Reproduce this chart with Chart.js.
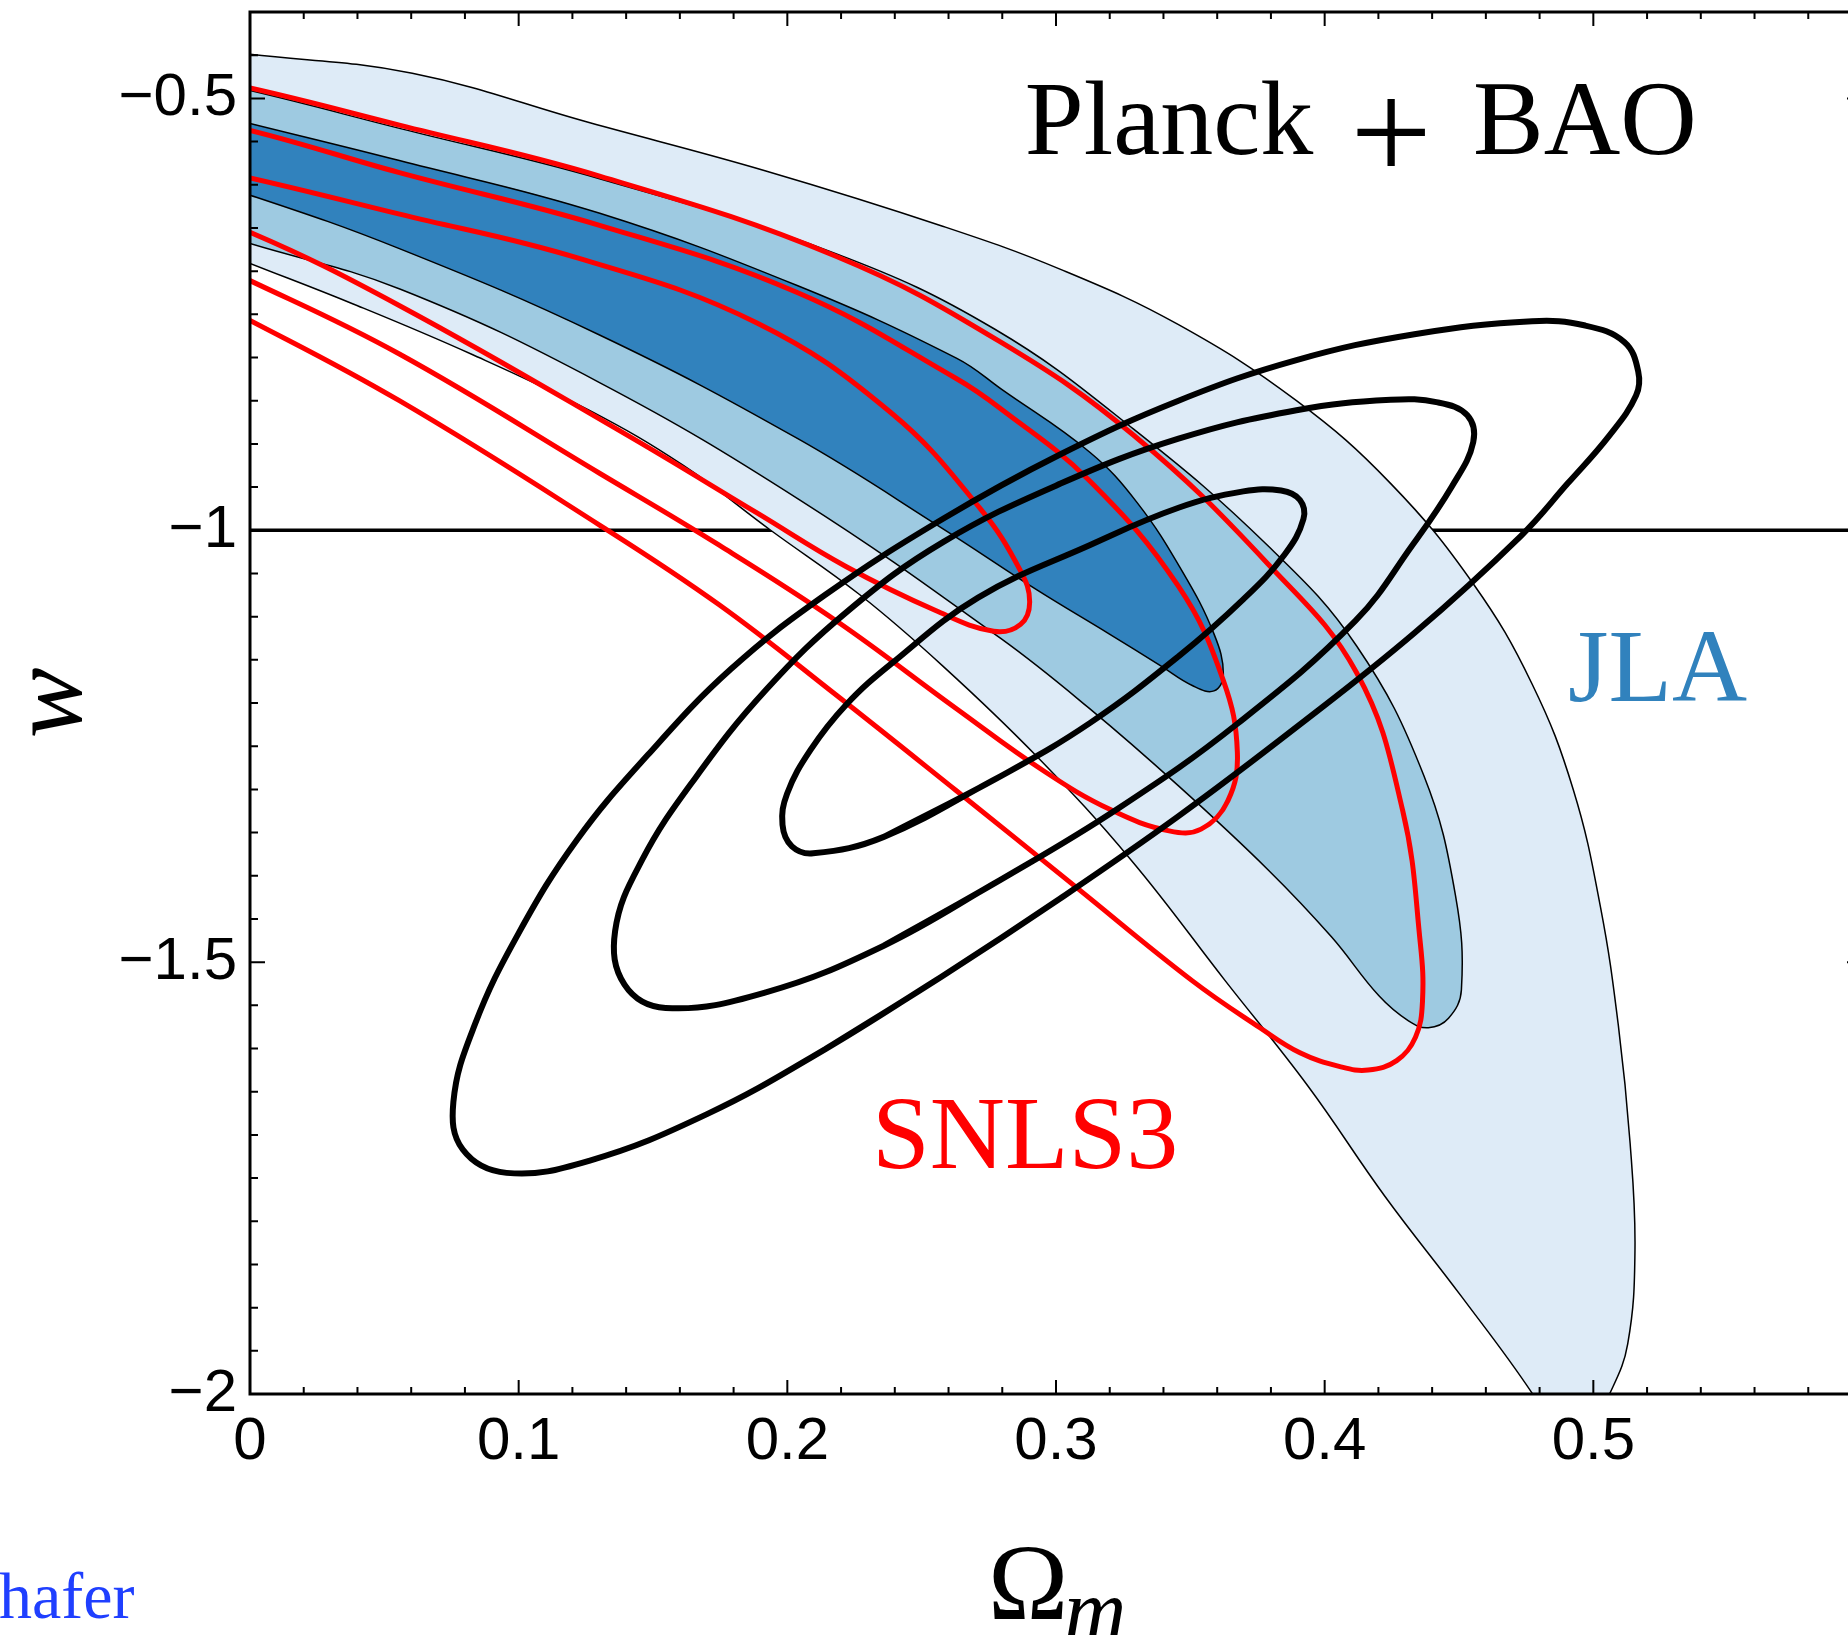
<!DOCTYPE html>
<html lang="en">
<head>
<meta charset="utf-8">
<title>Planck + BAO, JLA and SNLS3: w against Omega_m</title>
<script src="https://cdn.jsdelivr.net/npm/chart.js@4.4.1/dist/chart.umd.min.js"></script>
<style>
  html, body { margin: 0; padding: 0; background: #fff; overflow: hidden; }
  #frame { position: relative; width: 1848px; height: 1635px; overflow: hidden; }
  #plot { display: block; }
</style>
</head>
<body>
<div id="frame"><canvas id="plot" width="1900" height="1635"></canvas></div>
<script>
// axis ticks
const xTicks = [0, 0.1, 0.2, 0.3, 0.4, 0.5];
const yTicks = [-2, -1.5, -1, -0.5];

// cosmological constant
const wLambda = [[0, -1], [0.6, -1]];

// Planck + BAO contours, points are [Omega_m, w]
const planck68 = [
  [-0.04, -0.498], [0, -0.529], [0.0556, -0.572], [0.1302, -0.633], [0.2039, -0.717],
  [0.2631, -0.801], [0.2798, -0.837], [0.3127, -0.910], [0.3302, -0.968], [0.3469, -1.047],
  [0.3588, -1.120], [0.3623, -1.167], [0.3588, -1.186], [0.3509, -1.180], [0.3390, -1.157],
  [0.3193, -1.119], [0.2929, -1.069], [0.2578, -0.998], [0.2039, -0.894], [0.1301, -0.774],
  [0.0556, -0.674], [0, -0.612], [-0.04, -0.575]
];
const planck95 = [
  [-0.04, -0.465], [0, -0.491], [0.0560, -0.535], [0.1301, -0.593], [0.2183, -0.680],
  [0.2771, -0.767], [0.3289, -0.883], [0.3789, -1.018], [0.4119, -1.134], [0.4369, -1.284],
  [0.4487, -1.423], [0.4509, -1.532], [0.4461, -1.565], [0.4386, -1.576], [0.4312, -1.568],
  [0.4202, -1.539], [0.4026, -1.471], [0.3789, -1.393], [0.3456, -1.296], [0.3123, -1.206],
  [0.2793, -1.125], [0.2047, -0.965], [0.1301, -0.829], [0.0560, -0.721], [0, -0.668],
  [-0.04, -0.630]
];
const planck99 = [
  [-0.04, -0.436], [0, -0.449], [0.0604, -0.471], [0.1262, -0.528], [0.1920, -0.584],
  [0.2578, -0.648], [0.3017, -0.698], [0.3456, -0.762], [0.3895, -0.850], [0.4246, -0.946],
  [0.4553, -1.062], [0.4772, -1.178], [0.4926, -1.301], [0.5027, -1.437], [0.5093, -1.573],
  [0.5137, -1.710], [0.5155, -1.833], [0.5128, -1.942], [0.5062, -1.999], [0.4970, -2.048],
  [0.4869, -2.054], [0.4772, -1.999], [0.4509, -1.887], [0.4224, -1.771], [0.3939, -1.644],
  [0.3631, -1.522], [0.3280, -1.382], [0.2929, -1.262], [0.2578, -1.157], [0.2271, -1.075],
  [0.1938, -1.000], [0.1613, -0.925], [0.1262, -0.861], [0.0823, -0.796], [0.0384, -0.738],
  [0, -0.691], [-0.04, -0.642]
];

// SNLS3 contours
const snls68 = [
  [-0.04, -0.566], [0, -0.592], [0.0557, -0.634], [0.1222, -0.685], [0.1887, -0.760],
  [0.2386, -0.864], [0.2718, -0.975], [0.2868, -1.047], [0.2902, -1.083], [0.2868, -1.109],
  [0.2768, -1.117], [0.2552, -1.093], [0.2218, -1.042], [0.1887, -0.980], [0.1388, -0.887],
  [0.0557, -0.740], [0, -0.655], [-0.04, -0.612]
];
const snls95 = [
  [-0.04, -0.512], [0, -0.537], [0.0556, -0.586], [0.1301, -0.647], [0.2039, -0.725],
  [0.2627, -0.824], [0.2793, -0.859], [0.3123, -0.942], [0.3456, -1.065], [0.3623, -1.174],
  [0.3675, -1.257], [0.3640, -1.313], [0.3540, -1.346], [0.3421, -1.348], [0.3206, -1.324],
  [0.2956, -1.279], [0.2627, -1.206], [0.2183, -1.105], [0.1745, -1.017], [0.1301, -0.934],
  [0.0556, -0.796], [0, -0.711], [-0.04, -0.655]
];
const snls99 = [
  [-0.04, -0.464], [0, -0.488], [0.0556, -0.531], [0.1301, -0.590], [0.2183, -0.683],
  [0.2793, -0.782], [0.3289, -0.890], [0.3789, -1.039], [0.4119, -1.165], [0.4290, -1.324],
  [0.4356, -1.478], [0.4364, -1.546], [0.4338, -1.587], [0.4268, -1.614], [0.4162, -1.625],
  [0.4057, -1.621], [0.3908, -1.605], [0.3759, -1.576], [0.3509, -1.522], [0.3070, -1.412],
  [0.2627, -1.301], [0.2183, -1.191], [0.1745, -1.086], [0.1301, -0.994], [0.0556, -0.850],
  [0, -0.757], [-0.04, -0.695]
];

// JLA contours (closed)
const jla68 = [
  [0.2798, -1.284], [0.2359, -1.355], [0.2096, -1.374], [0.2017, -1.366], [0.1982, -1.341],
  [0.1999, -1.305], [0.2087, -1.254], [0.2219, -1.202], [0.2385, -1.155], [0.2710, -1.078],
  [0.3127, -1.017], [0.3456, -0.974], [0.3697, -0.955], [0.3838, -0.954], [0.3908, -0.965],
  [0.3921, -0.987], [0.3851, -1.028], [0.3697, -1.080], [0.3456, -1.146], [0.3127, -1.223]
];
const jla95 = [
  [0.2798, -1.404], [0.2359, -1.481], [0.1920, -1.535], [0.1547, -1.553], [0.1394, -1.526],
  [0.1359, -1.464], [0.1459, -1.382], [0.1657, -1.287], [0.1920, -1.185], [0.2227, -1.093],
  [0.2578, -1.014], [0.3017, -0.946], [0.3456, -0.894], [0.3895, -0.861], [0.4246, -0.849],
  [0.4421, -0.852], [0.4531, -0.867], [0.4553, -0.898], [0.4474, -0.949], [0.4325, -1.018],
  [0.4114, -1.105], [0.3675, -1.224], [0.3237, -1.321]
];
const jla99 = [
  [0.2140, -1.601], [0.2578, -1.516], [0.3017, -1.426], [0.3456, -1.331], [0.3895, -1.228],
  [0.4334, -1.119], [0.4729, -1.007], [0.4904, -0.946], [0.5058, -0.891], [0.5159, -0.844],
  [0.5167, -0.816], [0.5115, -0.782], [0.4970, -0.763], [0.4772, -0.758], [0.4334, -0.773],
  [0.3895, -0.803], [0.3456, -0.850], [0.3017, -0.912], [0.2578, -0.987], [0.2140, -1.075],
  [0.1789, -1.161], [0.1481, -1.260], [0.1218, -1.358], [0.0999, -1.467], [0.0836, -1.573],
  [0.0757, -1.662], [0.0792, -1.717], [0.0955, -1.744], [0.1262, -1.730], [0.1701, -1.676]
];

const SERIF = "'Liberation Serif', 'Times New Roman', serif";
const SANS = "'Liberation Sans', Arial, Helvetica, sans-serif";

// labels placed in data coordinates (left edge / baseline)
const notes = [
  { text: 'Planck', x: 0.2884, w: -0.564, color: '#000', font: `106px ${SERIF}` },
  { text: '+', x: 0.4247, w: -0.595, color: '#000', font: `145px ${SERIF}`, align: 'center' },
  { text: 'BAO', x: 0.4552, w: -0.564, color: '#000', font: `106px ${SERIF}` },
  { text: 'JLA', x: 0.4906, w: -1.198, color: '#3182bd', font: `104px ${SERIF}` },
  { text: 'SNLS3', x: 0.2315, w: -1.738, color: '#ff0000', font: `104px ${SERIF}` }
];

const toXY = pts => pts.map(([x, y]) => ({ x, y }));
// repeat the first two points so the spline closes smoothly
const closed = pts => pts.concat([pts[0], pts[1]]);

function contour(pts, color, width, order, extra) {
  return Object.assign({
    data: toXY(pts),
    showLine: true,
    pointRadius: 0,
    borderColor: color,
    borderWidth: width,
    tension: 0.4,
    fill: false,
    clip: 0,
    order
  }, extra || {});
}

const fmt = v => (v === 0 ? '0' : String(v).replace('-', '\u2212'));

// frame on all four sides with inward ticks
const axesFrame = {
  id: 'axesFrame',
  afterDatasetsDraw(chart) {
    const { ctx, chartArea: a } = chart;
    const xs = chart.scales.x, ys = chart.scales.y;
    ctx.save();
    ctx.strokeStyle = '#000';
    ctx.lineWidth = 2;
    ctx.beginPath();
    for (let i = 0; i <= 30; i++) {
      const px = xs.getPixelForValue(i * 0.02);
      const len = i % 5 === 0 ? 14 : 7;
      ctx.moveTo(px, a.bottom); ctx.lineTo(px, a.bottom - len);
      ctx.moveTo(px, a.top); ctx.lineTo(px, a.top + len);
    }
    for (let i = 0; i <= 32; i++) {
      const py = ys.getPixelForValue(-2 + i * 0.05);
      const len = i % 10 === 0 ? 15 : 8;
      ctx.moveTo(a.left, py); ctx.lineTo(a.left + len, py);
      ctx.moveTo(a.right, py); ctx.lineTo(a.right - len, py);
    }
    ctx.stroke();
    ctx.lineWidth = 3;
    ctx.strokeRect(a.left, a.top, a.right - a.left, a.bottom - a.top);
    ctx.restore();
  }
};

// in-plot labels, x axis title and the cut-off credit at the bottom
const textLayer = {
  id: 'textLayer',
  afterDraw(chart) {
    const { ctx } = chart;
    const xs = chart.scales.x, ys = chart.scales.y;
    ctx.save();
    ctx.textBaseline = 'alphabetic';
    notes.forEach(n => {
      ctx.font = n.font;
      ctx.fillStyle = n.color;
      ctx.textAlign = n.align || 'left';
      ctx.fillText(n.text, xs.getPixelForValue(n.x), ys.getPixelForValue(n.w));
    });

    // Omega_m
    ctx.textAlign = 'left';
    ctx.fillStyle = '#000';
    ctx.font = `108px ${SERIF}`;
    const omX = xs.getPixelForValue(0.2747);
    ctx.fillText('\u03A9', omX, chart.height - 16);
    const omW = ctx.measureText('\u03A9').width;
    ctx.font = `italic 86px ${SERIF}`;
    ctx.fillText('m', omX + omW - 4, chart.height + 4);

    ctx.font = `66px ${SERIF}`;
    ctx.fillStyle = '#1f3fff';
    ctx.fillText('hafer', -1, chart.height - 17);
    ctx.restore();
  }
};

new Chart(document.getElementById('plot'), {
  type: 'scatter',
  data: {
    datasets: [
      contour(wLambda, '#000', 3.5, 20, { tension: 0 }),
      contour(planck99, '#000', 1.5, 19, { fill: 'shape', backgroundColor: '#deebf7' }),
      contour(planck95, '#000', 1.5, 18, { fill: 'shape', backgroundColor: '#9ecae1' }),
      contour(planck68, '#000', 1.5, 17, { fill: 'shape', backgroundColor: '#3182bd' }),
      contour(snls99, '#ff0000', 5, 12),
      contour(snls95, '#ff0000', 5, 11),
      contour(snls68, '#ff0000', 5, 10),
      contour(closed(jla99), '#000', 6, 3),
      contour(closed(jla95), '#000', 6, 2),
      contour(closed(jla68), '#000', 6, 1)
    ]
  },
  options: {
    responsive: false,
    animation: false,
    events: [],
    layout: { padding: { left: 0, right: 38, top: 12, bottom: 0 } },
    elements: { line: { capBezierPoints: false } },
    plugins: { legend: { display: false }, tooltip: { enabled: false } },
    scales: {
      x: {
        type: 'linear',
        min: 0,
        max: 0.6,
        afterBuildTicks: s => { s.ticks = xTicks.map(v => ({ value: v })); },
        afterFit: s => { s.height = 241; s.paddingLeft = 0; s.paddingRight = 0; },
        grid: { display: false, drawTicks: false },
        border: { display: false },
        ticks: {
          padding: 12, autoSkip: false, maxRotation: 0, color: '#000',
          font: { family: SANS, size: 60 },
          callback: v => fmt(v)
        }
      },
      y: {
        type: 'linear',
        min: -2,
        max: -0.4,
        afterBuildTicks: s => { s.ticks = yTicks.map(v => ({ value: v })); },
        afterFit: s => { s.width = 250; s.paddingTop = 0; s.paddingBottom = 0; },
        grid: { display: false, drawTicks: false },
        border: { display: false },
        ticks: {
          padding: 13, autoSkip: false, color: '#000',
          font: { family: SANS, size: 60 },
          callback: v => fmt(v)
        },
        title: {
          display: true, text: 'w', color: '#000', padding: 0,
          font: { family: SERIF, style: 'italic', size: 106, lineHeight: 1 }
        }
      }
    }
  },
  plugins: [axesFrame, textLayer]
});
</script>
</body>
</html>
